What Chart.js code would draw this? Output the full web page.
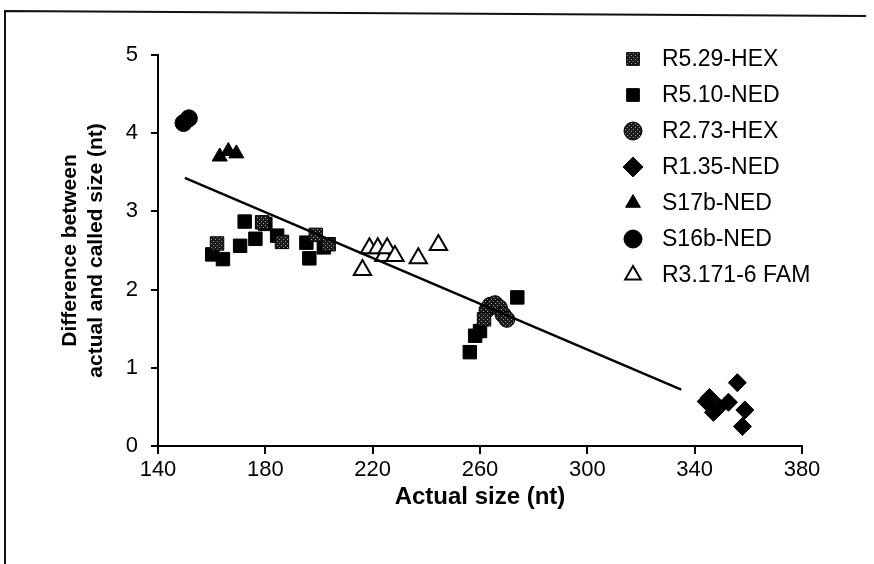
<!DOCTYPE html>
<html>
<head>
<meta charset="utf-8">
<script src="https://cdn.jsdelivr.net/npm/chart.js@4.4.1/dist/chart.umd.min.js"></script>
<style>
  html, body { margin: 0; padding: 0; background: #fff; }
</style>
</head>
<body>
<canvas id="chart" width="874" height="564"></canvas>
<script>
// axis ticks
const xTicks = [140, 180, 220, 260, 300, 340, 380];
const yTicks = [0, 1, 2, 3, 4, 5];

const seriesNames = ["R5.29-HEX", "R5.10-NED", "R2.73-HEX", "R1.35-NED", "S17b-NED", "S16b-NED", "R3.171-6 FAM"];

// values (actual size, difference)
const r529hexX = [162.0, 178.8, 186.2, 198.8, 203.6, 261.5];
const r529hexY = [2.59, 2.86, 2.61, 2.70, 2.58, 1.62];

const r510nedX = [160.2, 164.2, 170.6, 172.3, 176.3, 180.0, 184.4, 195.3, 196.4, 201.8, 256.2, 258.2, 260.0, 273.9];
const r510nedY = [2.45, 2.39, 2.56, 2.87, 2.65, 2.84, 2.69, 2.60, 2.40, 2.54, 1.20, 1.41, 1.47, 1.90];

const r273hexX = [262.6, 263.8, 265.6, 267.2, 268.6, 270.0];
const r273hexY = [1.74, 1.80, 1.82, 1.77, 1.68, 1.62];

const r135nedX = [344.3, 345.5, 347.0, 349.0, 352.6, 355.9, 358.7, 357.8];
const r135nedY = [0.57, 0.62, 0.43, 0.50, 0.56, 0.81, 0.46, 0.25];

const s17bnedX = [163.0, 166.2, 169.2];
const s17bnedY = [3.70, 3.77, 3.74];

const s16bnedX = [149.5, 151.5];
const s16bnedY = [4.13, 4.19];

const r3171famX = [216.2, 218.8, 221.9, 224.2, 225.4, 228.3, 237.0, 244.5];
const r3171famY = [2.25, 2.53, 2.53, 2.43, 2.53, 2.43, 2.40, 2.57];

// regression line end points
const trendX = [150, 335];
const trendY = [3.43, 0.72];

const pts = (xs, ys) => xs.map((x, i) => ({ x, y: ys[i] }));

// speckled fill for the HEX markers
function speckle() {
  const c = document.createElement("canvas");
  c.width = 4; c.height = 4;
  const g = c.getContext("2d");
  g.fillStyle = "#1a1a1a";
  g.fillRect(0, 0, 4, 4);
  g.fillStyle = "#9a9a9a";
  g.fillRect(1, 1, 1, 1);
  g.fillRect(3, 3, 1, 1);
  return g.createPattern(c, "repeat");
}
const hexFill = speckle();

const FONT = "'Liberation Sans', Arial, sans-serif";
const legendRadius = [9, 9, 9, 10, 8.5, 9, 9];

const frame = {
  id: "frame",
  beforeDraw(chart) {
    const ctx = chart.ctx;
    ctx.save();
    ctx.strokeStyle = "#111";
    ctx.lineWidth = 2;
    ctx.beginPath();
    ctx.moveTo(5, 564);
    ctx.lineTo(5, 11);
    ctx.lineTo(866, 16);
    ctx.stroke();
    ctx.restore();
  }
};

const sideLegend = {
  id: "sideLegend",
  afterDraw(chart) {
    const ctx = chart.ctx;
    ctx.save();
    seriesNames.forEach((name, i) => {
      const ds = chart.data.datasets[i];
      const y = 59 + i * 36;
      ctx.fillStyle = ds.backgroundColor;
      ctx.strokeStyle = ds.borderColor;
      ctx.lineWidth = ds.borderWidth;
      Chart.helpers.drawPoint(ctx, {
        pointStyle: ds.pointStyle,
        radius: legendRadius[i],
        borderWidth: ds.borderWidth,
        rotation: 0
      }, 633, y);
      ctx.fillStyle = "#000";
      ctx.font = "23px " + FONT;
      ctx.textBaseline = "middle";
      ctx.textAlign = "left";
      ctx.fillText(name, 662, y + 1);
    });
    ctx.restore();
  }
};

new Chart(document.getElementById("chart"), {
  type: "scatter",
  data: {
    datasets: [
      { label: seriesNames[0], data: pts(r529hexX, r529hexY), pointStyle: "rect", pointRadius: 9.5,
        backgroundColor: hexFill, borderColor: "#000", borderWidth: 1 },
      { label: seriesNames[1], data: pts(r510nedX, r510nedY), pointStyle: "rect", pointRadius: 9.5,
        backgroundColor: "#000", borderColor: "#000", borderWidth: 1 },
      { label: seriesNames[2], data: pts(r273hexX, r273hexY), pointStyle: "circle", pointRadius: 8,
        backgroundColor: hexFill, borderColor: "#000", borderWidth: 1 },
      { label: seriesNames[3], data: pts(r135nedX, r135nedY), pointStyle: "rectRot", pointRadius: 9,
        backgroundColor: "#000", borderColor: "#000", borderWidth: 1 },
      { label: seriesNames[4], data: pts(s17bnedX, s17bnedY), pointStyle: "triangle", pointRadius: 8.7,
        backgroundColor: "#000", borderColor: "#000", borderWidth: 1 },
      { label: seriesNames[5], data: pts(s16bnedX, s16bnedY), pointStyle: "circle", pointRadius: 8.5,
        backgroundColor: "#000", borderColor: "#000", borderWidth: 1 },
      { label: seriesNames[6], data: pts(r3171famX, r3171famY), pointStyle: "triangle", pointRadius: 10,
        backgroundColor: "#fff", borderColor: "#000", borderWidth: 2 },
      { label: "trend", type: "line", data: pts(trendX, trendY), showLine: true, pointRadius: 0,
        borderColor: "#000", borderWidth: 2.4, fill: false, order: -1 }
    ]
  },
  options: {
    responsive: false,
    animation: false,
    events: [],
    layout: { padding: { left: 0, right: 72, top: 55, bottom: 0 } },
    plugins: {
      legend: { display: false },
      tooltip: { enabled: false }
    },
    scales: {
      x: {
        type: "linear",
        min: 140,
        max: 380,
        afterBuildTicks: s => { s.ticks = xTicks.map(v => ({ value: v })); },
        afterFit: s => { s.height = 118; },
        grid: { drawOnChartArea: false, drawTicks: true, tickLength: 8, color: "#000", lineWidth: 2 },
        border: { display: true, color: "#000", width: 2 },
        ticks: { color: "#000", padding: 3, font: { family: FONT, size: 22 } },
        title: {
          display: true,
          text: "Actual size (nt)",
          color: "#000",
          font: { family: FONT, size: 24, weight: "bold" },
          padding: { top: 0, bottom: 52 }
        }
      },
      y: {
        min: 0,
        max: 5,
        afterBuildTicks: s => { s.ticks = yTicks.map(v => ({ value: v })); },
        afterFit: s => { s.width = 158; },
        grid: { drawOnChartArea: false, drawTicks: true, tickLength: 7, color: "#000", lineWidth: 2 },
        border: { display: true, color: "#000", width: 2 },
        ticks: { color: "#000", padding: 13, font: { family: FONT, size: 22 } },
        title: {
          display: true,
          text: ["Difference between", "actual and called size (nt)"],
          color: "#000",
          font: { family: FONT, size: 21, weight: "bold", lineHeight: 1.2 },
          padding: { top: 58, bottom: 0 }
        }
      }
    }
  },
  plugins: [frame, sideLegend]
});
</script>
</body>
</html>
